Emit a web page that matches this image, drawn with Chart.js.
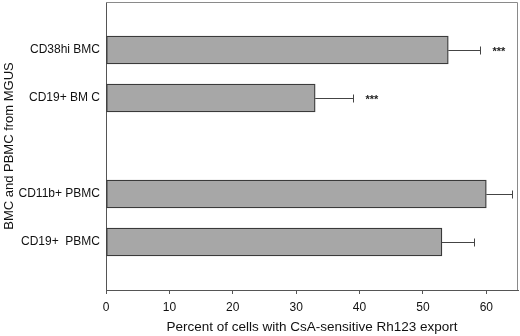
<!DOCTYPE html>
<html>
<head>
<meta charset="utf-8">
<script src="https://cdn.jsdelivr.net/npm/chart.js@4.4.1/dist/chart.umd.min.js"></script>
<style>
  html, body { margin: 0; padding: 0; background: #fff; }
  #wrap { width: 520px; height: 336px; }
</style>
</head>
<body>
<div id="wrap"><canvas id="chart"></canvas></div>
<script>
// kategoriler (boş olanlar boşluk için)
const categories = ["", "CD38hi BMC", "CD19+ BM C", "", "CD11b+ PBMC", "CD19+  PBMC", ""];
const values = [null, 54, 33, null, 60, 53, null];
const errorTops = [null, 59, 39, null, 64, 58, null];
const stars = ["", "***", "***", "", "", "", ""];
const xTicks = [0, 10, 20, 30, 40, 50, 60];

const FONT = "'Liberation Sans', Arial, sans-serif";

// hata çubukları, yıldızlar ve çerçeve
const extras = {
    id: "extras",
    afterDatasetsDraw(chart) {
        const ctx = chart.ctx;
        const x = chart.scales.x;
        const y = chart.scales.y;
        const area = chart.chartArea;
        ctx.save();
        ctx.strokeStyle = "#8a8a8a";
        ctx.lineWidth = 1;
        ctx.beginPath();
        ctx.moveTo(area.left, area.top + 0.5);
        ctx.lineTo(area.right - 0.5, area.top + 0.5);
        ctx.lineTo(area.right - 0.5, area.bottom);
        ctx.stroke();

        ctx.strokeStyle = "#444";
        ctx.fillStyle = "#222";
        ctx.font = "bold 11px " + FONT;
        ctx.textBaseline = "middle";
        ctx.textAlign = "left";
        for (let i = 0; i < categories.length; i++) {
            if (values[i] == null) continue;
            const cy = Math.round(y.getPixelForValue(i)) + 0.5;
            const x0 = x.getPixelForValue(values[i]);
            const x1 = Math.round(x.getPixelForValue(errorTops[i])) + 0.5;
            ctx.beginPath();
            ctx.moveTo(x0, cy);
            ctx.lineTo(x1, cy);
            ctx.moveTo(x1, cy - 4);
            ctx.lineTo(x1, cy + 4);
            ctx.stroke();
            if (stars[i]) ctx.fillText(stars[i], x1 + 12, cy + 1);
        }
        ctx.restore();
    }
};

new Chart(document.getElementById("chart"), {
    type: "bar",
    data: {
        labels: categories,
        datasets: [{
            data: values,
            backgroundColor: "#a7a7a7",
            borderColor: "#3a3a3a",
            borderWidth: 1.3,
            borderSkipped: false,
            barThickness: 28
        }]
    },
    options: {
        indexAxis: "y",
        responsive: true,
        maintainAspectRatio: false,
        animation: false,
        layout: { autoPadding: false, padding: { top: 2, right: 2, left: 0, bottom: 0 } },
        plugins: { legend: { display: false }, tooltip: { enabled: false } },
        scales: {
            y: {
                type: "category",
                offset: false,
                grid: { display: false, drawTicks: false },
                border: { display: true, color: "#555", width: 1 },
                ticks: { color: "#111", padding: 6, autoSkip: false, font: { family: FONT, size: 12 } },
                title: {
                    display: true,
                    text: "BMC and PBMC from MGUS",
                    color: "#111",
                    padding: { top: 2, bottom: 0 },
                    font: { family: FONT, size: 13 }
                },
                afterFit: (s) => {
                    s.width = 106;
                    s.paddingTop = 0;
                    s.paddingBottom = 0;
                }
            },
            x: {
                type: "linear",
                min: 0,
                max: 65,
                grid: { drawOnChartArea: false, drawTicks: true, tickLength: 4, color: "#555" },
                border: { display: true, color: "#555", width: 1 },
                ticks: {
                    stepSize: 10,
                    includeBounds: false,
                    padding: 6,
                    color: "#111",
                    font: { family: FONT, size: 12 },
                    callback: (v) => xTicks.includes(v) ? String(v) : ""
                },
                title: {
                    display: true,
                    text: "Percent of cells with CsA-sensitive Rh123 export",
                    color: "#111",
                    padding: { top: 0, bottom: 1 },
                    font: { family: FONT, size: 13.5 }
                },
                afterFit: (s) => {
                    s.height = 46;
                    s.paddingLeft = 0;
                    s.paddingRight = 0;
                }
            }
        }
    },
    plugins: [extras]
});
</script>
</body>
</html>
